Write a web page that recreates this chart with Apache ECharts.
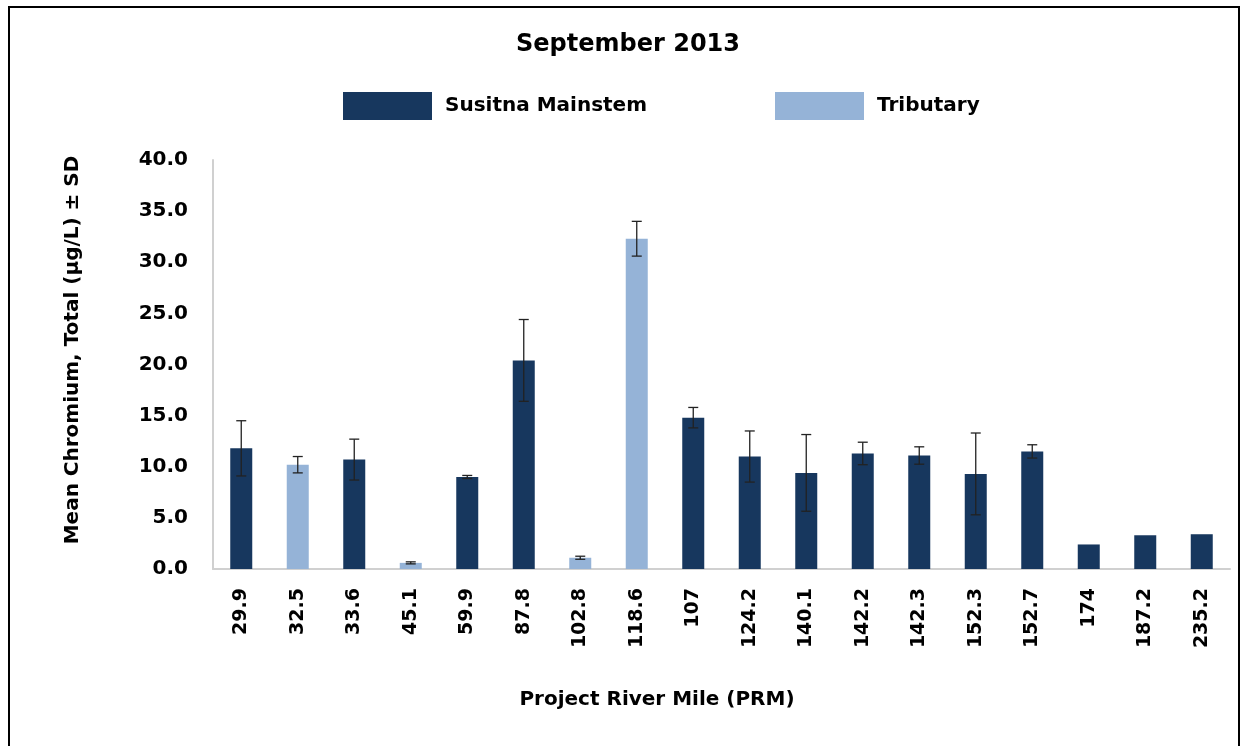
<!DOCTYPE html>
<html>
<head>
<meta charset="utf-8">
<script src="https://cdn.jsdelivr.net/npm/echarts@6/dist/echarts.min.js"></script>
<style>
html,body{margin:0;padding:0;background:#fff;}
#frame{position:absolute;left:8px;top:6px;width:1232px;height:742px;border-left:2px solid #000;border-top:2px solid #000;border-right:2px solid #000;box-sizing:border-box;}
#chart{position:absolute;left:0;top:0;width:1243px;height:746px;}
</style>
</head>
<body>
<div id="chart"></div>
<div id="frame"></div>
<script>
const categories = ['29.9','32.5','33.6','45.1','59.9','87.8','102.8','118.6','107','124.2','140.1','142.2','142.3','152.3','152.7','174','187.2','235.2'];
const mainstem  = [11.8,'-',10.7,'-',9.0,20.4,'-','-',14.8,11.0,9.4,11.3,11.1,9.3,11.5,2.4,3.3,3.4];
const tributary = ['-',10.2,'-',0.6,'-','-',1.1,32.3,'-','-','-','-','-','-','-','-','-','-'];
const sd        = [2.7,0.8,2.0,0.1,0.15,4.0,0.15,1.7,1.0,2.5,3.75,1.1,0.85,4.0,0.65,0,0,0];
const yTicks = [0,5,10,15,20,25,30,35,40];

const means = categories.map((c,i)=> mainstem[i] !== '-' ? mainstem[i] : tributary[i]);
const errData = categories.map((c,i)=> [i, means[i], sd[i]]);

const FONT = 'DejaVu Sans';
const legendText = {fontFamily:FONT,fontSize:20,fontWeight:'bold',color:'#000',padding:[0,0,0,8]};
const chart = echarts.init(document.getElementById('chart'));
chart.setOption({
  animation:false,
  backgroundColor:'#fff',
  graphic:[
    {type:'text',x:628,y:45,style:{text:'September 2013',align:'center',verticalAlign:'middle',
      fontFamily:FONT,fontSize:24,fontWeight:'bold',fill:'#000'}},
    {type:'text',x:657,y:700,style:{text:'Project River Mile (PRM)',align:'center',verticalAlign:'middle',
      fontFamily:FONT,fontSize:20,fontWeight:'bold',fill:'#000'}},
    {type:'text',x:73,y:350,rotation:Math.PI/2,style:{text:'Mean Chromium, Total (µg/L) ± SD',align:'center',verticalAlign:'middle',
      fontFamily:FONT,fontSize:20,fontWeight:'bold',fill:'#000'}}
  ],
  legend:[
    {top:87,left:338,itemWidth:89,itemHeight:28,icon:'rect',textStyle:legendText,data:['Susitna Mainstem']},
    {top:87,left:770,itemWidth:89,itemHeight:28,icon:'rect',textStyle:legendText,data:['Tributary']}
  ],
  grid:{left:213,right:13,top:160,bottom:177,containLabel:false},
  xAxis:{type:'category',data:categories,
    axisLine:{lineStyle:{color:'#d0d0d0',width:2}},axisTick:{show:false},
    axisLabel:{rotate:90,margin:19,fontFamily:FONT,fontSize:19,fontWeight:'bold',color:'#000'}},
  yAxis:{type:'value',min:yTicks[0],max:yTicks[yTicks.length-1],interval:5,
    axisLine:{show:true,lineStyle:{color:'#d0d0d0',width:2}},axisTick:{show:false},splitLine:{show:false},
    axisLabel:{formatter:v=>v.toFixed(1),margin:25,fontFamily:FONT,fontSize:20,fontWeight:'bold',color:'#000'}},
  series:[
    {name:'Susitna Mainstem',type:'bar',data:mainstem,barWidth:22,barGap:'-100%',
      itemStyle:{color:'#17375E'}},
    {name:'Tributary',type:'bar',data:tributary,barWidth:22,
      itemStyle:{color:'#95B3D7'}},
    {name:'err',type:'custom',data:errData,z:10,
      renderItem:function(params,api){
        const i=api.value(0), m=api.value(1), s=api.value(2);
        if(!s) return null;
        const top=api.coord([i,m+s]), bot=api.coord([i,m-s]);
        const x=top[0], hw=5;
        const st={stroke:'#222',lineWidth:1.3};
        return {type:'group',children:[
          {type:'line',shape:{x1:x,y1:top[1],x2:x,y2:bot[1]},style:st},
          {type:'line',shape:{x1:x-hw,y1:top[1],x2:x+hw,y2:top[1]},style:st},
          {type:'line',shape:{x1:x-hw,y1:bot[1],x2:x+hw,y2:bot[1]},style:st}
        ]};
      }}
  ]
});
</script>
</body>
</html>
